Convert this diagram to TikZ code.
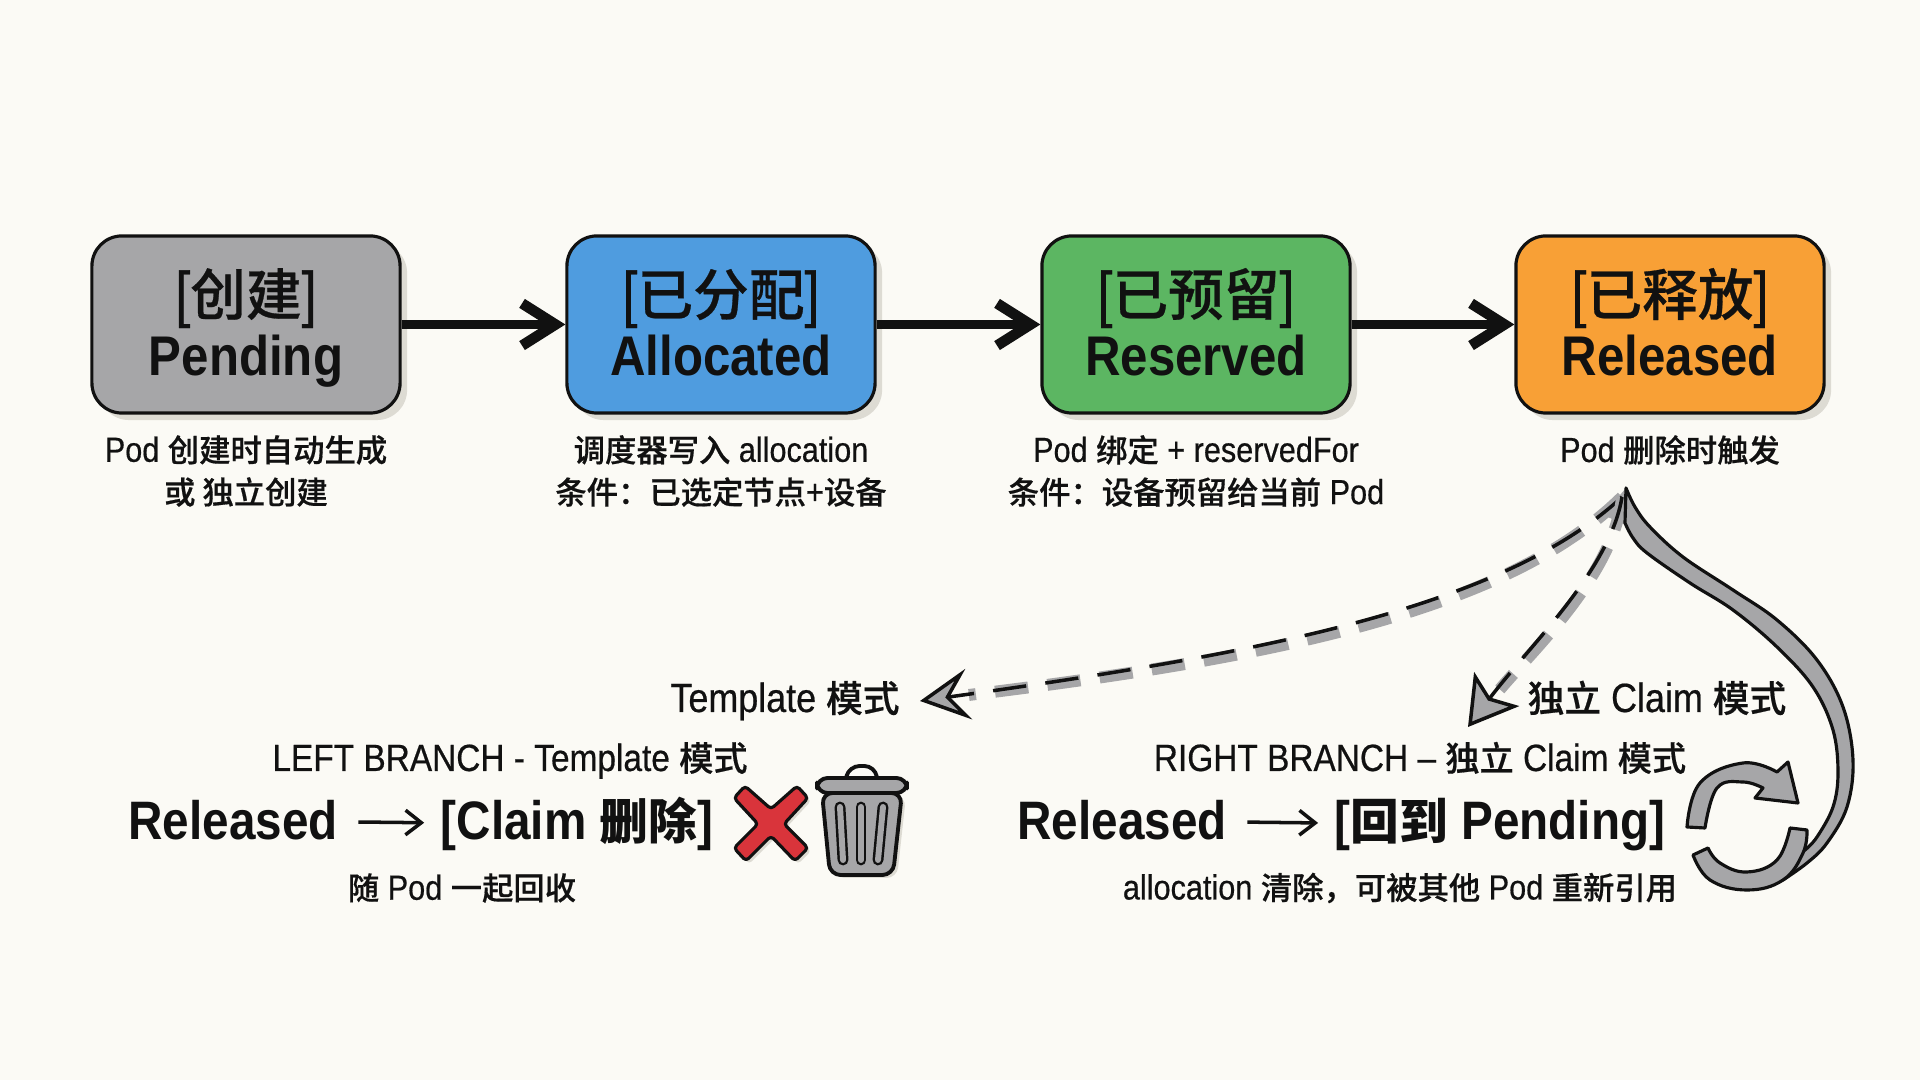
\documentclass[tikz,border=0pt]{standalone}
\usepackage{fontspec}
\setmainfont{Liberation Sans}[FakeStretch=0.88, UprightFeatures={FakeBold=0.5}]
\newfontfamily\cjk[Scale=0.9, UprightFont=* Medium, UprightFeatures={FakeBold=0.5}]{Noto Sans CJK SC}
\newcommand{\zh}[1]{{\cjk #1}}
\newcommand{\head}[1]{{\fontsize{17.6}{17}\selectfont\mdseries #1}}
\usetikzlibrary{arrows.meta,shadows}
\definecolor{paper}{HTML}{fbfaf5}
\definecolor{ink}{HTML}{111111}
\definecolor{soft}{HTML}{dddbd3}
\definecolor{color1}{HTML}{a6a6a8}
\definecolor{color2}{HTML}{4f9cdf}
\definecolor{color3}{HTML}{5cb662}
\definecolor{color4}{HTML}{f8a036}
\definecolor{color5}{HTML}{d9343b}
\tikzstyle{box}=[
  rounded corners=0.3cm,
  draw=ink,
  line width=0.9pt,
  minimum width=3.08cm,
  minimum height=1.77cm,
  align=center,
  text=ink,
  inner sep=0pt,
  text height=1.01cm,
  text depth=0pt,
  font=\fontsize{15.9}{17}\selectfont\bfseries,
  general shadow={fill=soft, shadow xshift=0.07cm, shadow yshift=-0.07cm},
  ]
\tikzstyle{style1}=[ fill=color1 ]
\tikzstyle{style2}=[ fill=color2 ]
\tikzstyle{style3}=[ fill=color3 ]
\tikzstyle{style4}=[ fill=color4 ]
\tikzstyle{note}=[ align=center, text=ink, inner sep=0pt, font=\fontsize{9.9}{12}\selectfont ]
\tikzstyle{mode}=[ text=ink, inner sep=0pt, anchor=base, font=\fontsize{11.6}{13}\selectfont ]
\tikzstyle{branch}=[ text=ink, inner sep=0pt, anchor=base, font=\fontsize{10.8}{12}\selectfont ]
\tikzstyle{result}=[ text=ink, inner sep=0pt, anchor=base, font=\fontsize{15.4}{18}\selectfont\bfseries ]
\tikzstyle{heavy edge}=[ line width=2.6pt, ink, -{Straight Barb[length=9.5pt,width=12pt,line width=3pt]} ]
\tikzstyle{thin edge}=[ line width=1pt, ink, shorten <=0.2cm, shorten >=0.16cm,
  -{Straight Barb[length=4.5pt,width=7pt,line width=1pt]} ]
\tikzstyle{dash under}=[ line width=3.4pt, color1, dash pattern=on 9.5pt off 5.5pt, shorten >=14pt ]
\tikzstyle{dash over}=[ line width=1pt, ink, dash pattern=on 9.5pt off 5.5pt ]
\tikzstyle{icon}=[ draw=ink, line width=0.9pt, fill=color1, line join=round ]

\begin{document}
\begin{tikzpicture}[x=0.01cm,y=-0.01cm]
    \useasboundingbox[fill=paper] (0,0) rectangle (1920,1080);

    \node[box, style1] (n1) at (246,324.5) {\head{[\zh{创建}]}\\Pending};
    \node[box, style2] (n2) at (721,324.5) {\head{[\zh{已分配}]}\\Allocated};
    \node[box, style3] (n3) at (1196,324.5) {\head{[\zh{已预留}]}\\Reserved};
    \node[box, style4] (n4) at (1670,324.5) {\head{[\zh{已释放}]}\\Released};
    \draw[heavy edge] (n1) -- (n2);
    \draw[heavy edge] (n2) -- (n3);
    \draw[heavy edge] (n3) -- (n4);

    \node[note] (t1) at (246,471) {Pod \zh{创建时自动生成}\\\zh{或 独立创建}};
    \node[note] (t2) at (721,471) {\zh{调度器写入} allocation\\\zh{条件：已选定节点}+\zh{设备}};
    \node[note] (t3) at (1196,471) {Pod \zh{绑定} + reservedFor\\\zh{条件：设备预留给当前} Pod};
    \node[note] (t4) at (1670,450) {Pod \zh{删除时触发}};

    % branch arrows
    \coordinate (rel) at (1622,497);
    \coordinate (tip1) at (920,701);
    \coordinate (tip2) at (1468,727);
    \fill[color1] (1626,488) -- (1603,515) -- (1626,525) -- cycle;
    \draw[dash under, shift={(3,5)}] (rel) .. controls (1500,610) and (1250,655) .. (tip1);
    \draw[dash over, -{Stealth[length=14pt,width=14.5pt,inset=5.5pt,fill=color1,line width=1pt]}]
      (rel) .. controls (1500,610) and (1250,655) .. (tip1);
    \draw[dash under, shift={(4,4)}] (rel) .. controls (1610,570) and (1530,645) .. (tip2);
    \draw[dash over, -{Stealth[length=13.5pt,width=16pt,inset=3pt,fill=color1,line width=1pt]}]
      (rel) .. controls (1610,570) and (1530,645) .. (tip2);

    \node[mode] (m1) at (785,712) {Template \zh{模式}};
    \node[mode] (m2) at (1657,712) {\zh{独立} Claim \zh{模式}};

    % left branch
    \node[branch] (b1) at (510,771) {LEFT BRANCH - Template \zh{模式}};
    \node[result] (r1) at (233,840) {Released};
    \node[result] (c1) at (577,840) {[Claim \zh{删除}]};
    \draw[thin edge] (r1) -- (c1);
    \node[note] (s1) at (462,888) {\zh{随} Pod \zh{一起回收}};

    % cross
    \draw[icon, fill=color5, rounded corners=1pt, general shadow={fill=soft, shadow xshift=0.03cm, shadow yshift=-0.03cm}]
      (745,786) -- (771,809) -- (797,786) -- (808,798) -- (784,824) -- (808,848) -- (795,861)
      -- (771,836) -- (746,861) -- (734,848) -- (758,824) -- (734,798) -- cycle;

    % trash can
    \draw[draw=ink, line width=1.1pt, rounded corners=3pt] (846,778) -- (849,766) -- (875,766) -- (877,778);
    \draw[icon, line width=1.1pt, rounded corners=3pt, general shadow={fill=soft, shadow xshift=0.04cm, shadow yshift=-0.03cm}]
      (822,793) -- (902,793) -- (893,875) -- (830,875) -- cycle;
    \draw[icon, line width=1.1pt, rounded corners=3pt] (817,778) rectangle (907,793);
    \foreach \a/\b in {840/843,861/861,883/878}
      \draw[ink, line width=0.7pt, line cap=round, double=color1, double distance=1.7pt] (\a,807) -- (\b,860);

    % right branch
    \node[branch] (b2) at (1420,771) {RIGHT BRANCH – \zh{独立} Claim \zh{模式}};
    \node[result] (r2) at (1122,840) {Released};
    \node[result] (c2) at (1500,840) {[\zh{回到} Pending]};
    \draw[thin edge] (r2) -- (c2);
    \node[note] (s2) at (1400,888) {allocation \zh{清除，可被其他} Pod \zh{重新引用}};

    % big return arrow
    \draw[icon] plot[smooth, tension=0.6] coordinates {(1626,488) (1635,507) (1650,527) (1683,557) (1733,590) (1777,620)
        (1817,660) (1843,707) (1853,760) (1847,807) (1827,843) (1807,863) (1783,880)}
      -- (1790,860) --
      plot[smooth, tension=0.6] coordinates {(1805,850) (1817,837) (1833,807) (1838,773) (1833,730) (1813,687)
        (1777,647) (1733,610) (1690,583) (1647,553) (1633,538) (1625,523)} -- cycle;

    % refresh icon
    \draw[icon] plot[smooth, tension=0.7] coordinates {(1687,827) (1700,783) (1743,763) (1777,772)}
      -- (1788,762) -- (1798,803) -- (1755,798) -- (1763,788)
      -- plot[smooth, tension=0.7] coordinates {(1763,788) (1743,782) (1717,788) (1705,828)} -- cycle;
    \draw[icon] plot[smooth, tension=0.7] coordinates {(1790,828) (1777,860) (1747,872) (1720,863) (1708,848)}
      -- (1693,855) -- plot[smooth, tension=0.7] coordinates {(1693,855) (1710,880) (1747,890) (1783,880) (1803,853) (1807,830)} -- cycle;
\end{tikzpicture}
\end{document}
